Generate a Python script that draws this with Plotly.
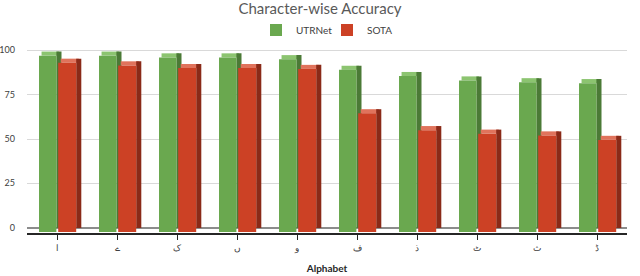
import plotly.graph_objects as go

# ---- data ----
alphabet = ["ا", "ے", "ک", "ں", "و", "ف", "ذ", "ٹ", "ث", "ڈ"]
utrnet = [97, 97, 96, 96, 95, 89, 85.5, 83, 82, 81.5]
sota = [93, 91.5, 90, 90, 89.5, 64.5, 55, 53, 52, 49.5]

# ---- style ----
FONT = "Lato"
floor = -2.5          # bars start slightly below zero (3D floor)
depth_x = 0.085       # 3D depth in category units
depth_y = 2.3         # 3D depth in value units

series = [
    dict(name="UTRNet", vals=utrnet, off=-0.30, w=0.29,
         front="#6aa84f", top="#8cc470", side="#4b7a36"),
    dict(name="SOTA", vals=sota, off=0.02, w=0.30,
         front="#cc4125", top="#e0735c", side="#8a2a18"),
]

xs = list(range(len(alphabet)))
fig = go.Figure()

for s in series:
    n = len(s["vals"])
    # top face (lighter), shifted up/right by the depth
    fig.add_trace(go.Bar(
        x=xs, y=[depth_y] * n, base=[v for v in s["vals"]],
        offset=s["off"] + depth_x / 2, width=s["w"],
        marker=dict(color=s["top"], line=dict(width=0)),
        showlegend=False, hoverinfo="skip"))
    # side face (darker)
    fig.add_trace(go.Bar(
        x=xs, y=[v - floor for v in s["vals"]], base=[floor + depth_y] * n,
        offset=s["off"] + s["w"], width=depth_x,
        marker=dict(color=s["side"], line=dict(width=0)),
        showlegend=False, hoverinfo="skip"))
    # front face
    fig.add_trace(go.Bar(
        x=xs, y=[v - floor for v in s["vals"]], base=[floor] * n,
        offset=s["off"], width=s["w"], name=s["name"],
        marker=dict(color=s["front"], line=dict(width=0)),
        hovertemplate="%{text}<extra></extra>", text=[str(v) for v in s["vals"]],
        textposition="none"))

fig.update_layout(
    width=640, height=276,
    barmode="overlay",
    paper_bgcolor="white", plot_bgcolor="white",
    margin=dict(l=27, r=13, t=45, b=43, autoexpand=False),
    font=dict(family=FONT, size=10, color="#404040"),
    title=dict(text="Character-wise Accuracy", x=0.5, xanchor="center",
               yref="container", y=1 - 9 / 276, yanchor="middle",
               font=dict(family=FONT, size=15, color="#595959")),
    legend=dict(orientation="h", x=0.5, xanchor="center",
                yref="container", y=1 - 30 / 276, yanchor="middle",
                font=dict(family=FONT, size=10, color="#404040"),
                itemwidth=30, entrywidth=26, entrywidthmode="pixels",
                traceorder="normal", bgcolor="rgba(0,0,0,0)"),
    xaxis=dict(
        range=[-0.5, 9.5], tickmode="array", tickvals=xs, ticktext=alphabet,
        showline=True, linecolor="#262626", linewidth=1.5,
        ticks="outside", ticklen=5, tickcolor="#262626",
        showgrid=False, zeroline=False, automargin=False,
        tickfont=dict(family="Noto Sans", size=9, color="#404040"),
        title=dict(text="<b>Alphabet</b>", standoff=12,
                   font=dict(family=FONT, size=10, color="#262626")),
    ),
    yaxis=dict(
        range=[-3, 103], tickvals=[0, 25, 50, 75, 100],
        showgrid=True, gridcolor="#d9d9d9", gridwidth=1,
        zeroline=True, zerolinecolor="#8c8c8c", zerolinewidth=2,
        showline=False, ticks="", ticklabelstandoff=11, automargin=False,
        tickfont=dict(family=FONT, size=9, color="#404040"),
    ),
)

fig.write_html(
    "out.html",
    config={"displayModeBar": False},
    post_script="document.body.style.margin='0';document.body.style.padding='0';",
)
